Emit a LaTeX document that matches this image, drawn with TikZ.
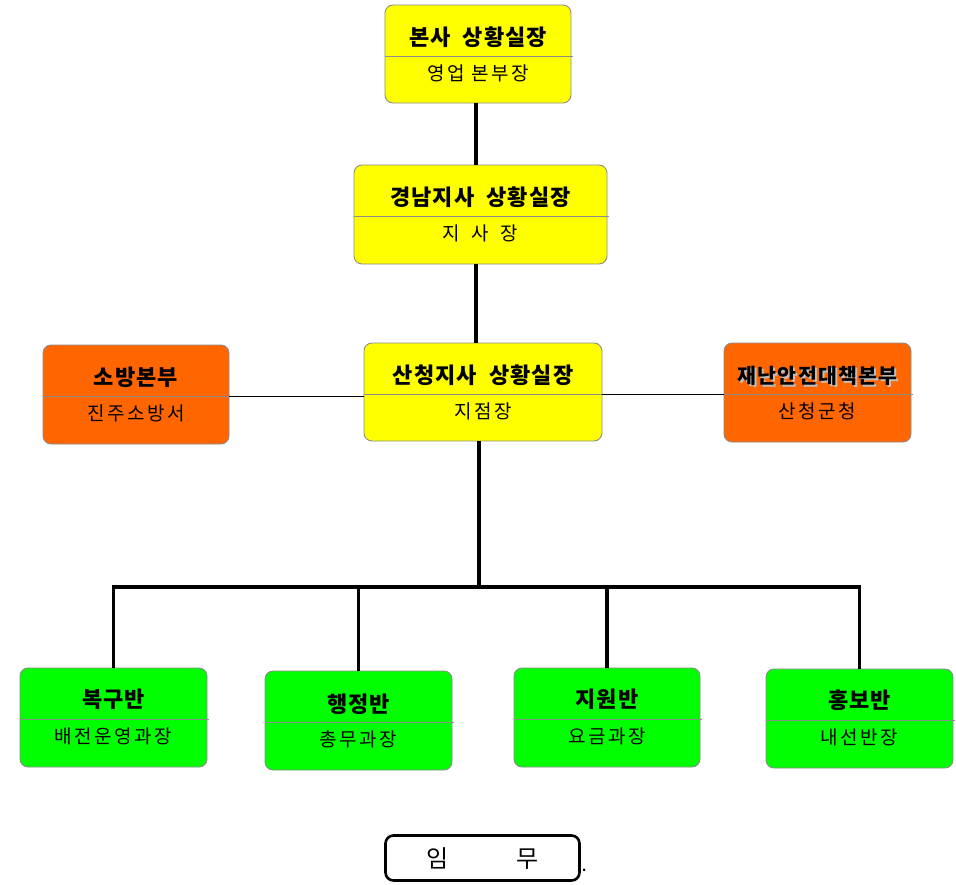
\documentclass[tikz,border=0pt]{standalone}
\usepackage{fontspec}
\newfontfamily\kr{Noto Sans CJK KR}
\definecolor{boxyellow}{HTML}{FFFF00}
\definecolor{boxorange}{HTML}{FF6600}
\definecolor{boxgreen}{HTML}{00FF00}
\definecolor{boxline}{HTML}{8C8C8C}
\tikzset{
	orgbox/.style={draw=boxline, line width=.9pt, rounded corners=8pt, minimum width=186pt, minimum height=98pt, inner sep=0pt},
	divider/.style={draw=boxline, line width=.9pt},
	title/.style={font=\kr\bfseries\addfontfeature{LetterSpace=5}\fontsize{22}{24}\selectfont, inner sep=0pt},
	widetitle/.style={title, font=\kr\bfseries\addfontfeature{LetterSpace=6}\fontsize{20.5}{24}\selectfont},
	sub/.style={font=\kr\addfontfeature{LetterSpace=13}\fontsize{19}{21}\selectfont, inner sep=0pt},
	trunk/.style={line width=3.6pt, line join=miter},
	link/.style={line width=.9pt}
}
\begin{document}
\begin{tikzpicture}[x=1pt, y=-1pt]
		\useasboundingbox (0,0) rectangle (956,884);
		% boxes
		\node[orgbox, fill=boxyellow] (bonsa) at (478,54) {};
		\node[orgbox, fill=boxyellow, minimum width=253pt, minimum height=99pt] (gyeongnam) at (480.5,214.5) {};
		\node[orgbox, fill=boxyellow, minimum width=238pt] (sancheong) at (483,392) {};
		\node[orgbox, fill=boxorange, minimum height=99pt] (sobang) at (136,394.5) {};
		\node[orgbox, fill=boxorange, minimum width=187pt, minimum height=99pt] (jaenan) at (817.5,392.5) {};
		\node[orgbox, fill=boxgreen, minimum width=187pt, minimum height=99pt] (bokgu) at (113.5,717.5) {};
		\node[orgbox, fill=boxgreen, minimum width=187pt, minimum height=99pt] (haengjeong) at (358.5,720.5) {};
		\node[orgbox, fill=boxgreen, minimum height=99pt] (jiwon) at (607,717.5) {};
		\node[orgbox, fill=boxgreen, minimum width=187pt, minimum height=99pt] (hongbo) at (859.5,718.5) {};
		% dividers
		\foreach \b in {bonsa,gyeongnam,sancheong,sobang,jaenan,bokgu,haengjeong,jiwon,hongbo}
			\draw[divider] ([yshift=-2pt]\b.west) -- ([xshift=2pt,yshift=-2pt]\b.east);
		% titles
		\node[title] (bonsa-t) at ([yshift=17pt]bonsa.center) {본사\hspace{.55em}상황실장};
		\node[title] (gyeongnam-t) at ([yshift=17pt]gyeongnam.center) {경남지사\hspace{.55em}상황실장};
		\node[title] (sancheong-t) at ([yshift=17pt]sancheong.center) {산청지사\hspace{.55em}상황실장};
		\node[title] (sobang-t) at ([yshift=17pt]sobang.center) {소방본부};
		\node[widetitle, text=black!25] (jaenan-s) at ([xshift=2pt,yshift=14.5pt]jaenan.center) {재난안전대책본부};
		\node[widetitle] (jaenan-t) at ([yshift=16.5pt]jaenan.center) {재난안전대책본부};
		\node[title] (bokgu-t) at ([yshift=18pt]bokgu.center) {복구반};
		\node[title] (haengjeong-t) at ([yshift=16pt]haengjeong.center) {행정반};
		\node[title] (jiwon-t) at ([yshift=18pt]jiwon.center) {지원반};
		\node[title] (hongbo-t) at ([yshift=18pt]hongbo.center) {홍보반};
		% text
		\node[sub] (bonsa-s) at ([yshift=-19pt]bonsa.center) {영업 본부장};
		\node[sub] (gyeongnam-s) at ([yshift=-19pt]gyeongnam.center) {지\hspace{.6em}사\hspace{.6em}장};
		\node[sub] (sancheong-s) at ([yshift=-19pt]sancheong.center) {지점장};
		\node[sub] (sobang-s) at ([yshift=-19pt]sobang.center) {진주소방서};
		\node[sub] (jaenan-s2) at ([yshift=-19pt]jaenan.center) {산청군청};
		\node[sub] (bokgu-s) at ([yshift=-19pt]bokgu.center) {배전운영과장};
		\node[sub] (haengjeong-s) at ([yshift=-19pt]haengjeong.center) {총무과장};
		\node[sub] (jiwon-s) at ([yshift=-19pt]jiwon.center) {요금과장};
		\node[sub] (hongbo-s) at ([yshift=-19pt]hongbo.center) {내선반장};
		% lines
		\coordinate (bus) at (479,587);
		\draw[trunk] ([xshift=-2pt]bonsa.south) -- ([xshift=-4.5pt]gyeongnam.north);
		\draw[trunk] ([xshift=-4.5pt]gyeongnam.south) -- ([xshift=-7pt]sancheong.north);
		\draw[trunk] ([xshift=-4pt]sancheong.south) -- ([xshift=-4pt]sancheong.south |- bus);
		\draw[trunk] (bokgu.north) |- (bus) -| (hongbo.north);
		\draw[trunk] (bus -| haengjeong.north) -- (haengjeong.north);
		\draw[trunk] (bus -| jiwon.north) -- (jiwon.north);
		\draw[link] (sobang.east |- 0,396) -- (sancheong.west |- 0,396);
		\draw[link] (sancheong.east |- 0,394) -- (jaenan.west |- 0,394);
		% duty
		\node[draw, line width=2.6pt, rounded corners=8pt, minimum width=194pt, minimum height=45pt, inner sep=0pt,
			font=\kr\fontsize{24}{26}\selectfont] (imu) at (482.5,858) {임\hspace{2.8em}무};
		\node[font=\kr\bfseries\fontsize{12}{12}\selectfont, anchor=south west, inner sep=0pt] (imu-dot) at ([xshift=1pt,yshift=10pt]imu.south east) {.};
\end{tikzpicture}
\end{document}
